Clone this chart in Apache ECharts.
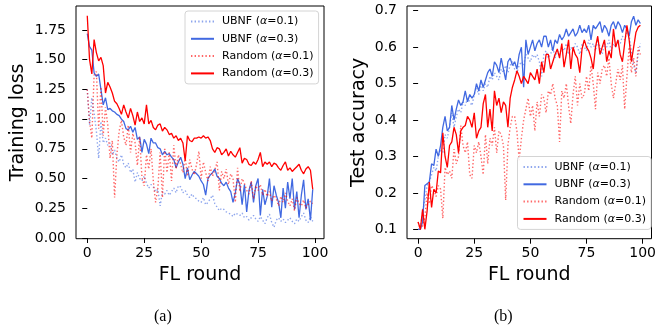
<!DOCTYPE html>
<html>
<head>
<meta charset="utf-8">
<script src="https://cdn.jsdelivr.net/npm/echarts@6/dist/echarts.min.js"></script>
<style>
  html, body { margin: 0; padding: 0; background: #fff; }
  #chart { width: 659px; height: 333px; }
</style>
</head>
<body>
<div id="chart"></div>
<script>
const seriesNames = ['UBNF (α=0.1)', 'UBNF (α=0.3)', 'Random (α=0.1)', 'Random (α=0.3)'];
const xTicks = [0, 25, 50, 75, 100];
const lossTicks = [0, 0.25, 0.5, 0.75, 1, 1.25, 1.5, 1.75];
const accTicks = [0.1, 0.2, 0.3, 0.4, 0.5, 0.6, 0.7];

// training loss per FL round (0..99)
const lossUb1 = [1.25, 0.95, 1.18, 1.05, 0.90, 0.67, 0.98, 0.80, 0.84, 0.78,
  0.80, 0.70, 0.74, 0.67, 0.64, 0.70, 0.62, 0.59, 0.63, 0.55,
  0.58, 0.47, 0.55, 0.50, 0.48, 0.52, 0.46, 0.42, 0.45, 0.43,
  0.39, 0.41, 0.27, 0.39, 0.37, 0.40, 0.36, 0.39, 0.42, 0.38,
  0.44, 0.43, 0.38, 0.40, 0.36, 0.34, 0.37, 0.34, 0.33, 0.31,
  0.30, 0.34, 0.28, 0.30, 0.33, 0.36, 0.29, 0.26, 0.23, 0.25,
  0.24, 0.22, 0.21, 0.20, 0.18, 0.21, 0.20, 0.19, 0.21, 0.17,
  0.18, 0.15, 0.17, 0.19, 0.16, 0.14, 0.18, 0.15, 0.12, 0.17,
  0.20, 0.13, 0.09, 0.15, 0.17, 0.14, 0.16, 0.13, 0.15, 0.17,
  0.14, 0.12, 0.16, 0.14, 0.18, 0.21, 0.15, 0.13, 0.18, 0.14];
const lossUb3 = [1.72, 1.61, 1.58, 1.39, 1.36, 1.38, 1.25, 1.12, 1.18, 1.08,
  1.09, 1.07, 1.06, 1.04, 1.03, 1.00, 0.98, 0.92, 0.91, 0.94,
  0.89, 0.93, 0.83, 0.85, 0.72, 0.83, 0.79, 0.71, 0.84, 0.80,
  0.80, 0.76, 0.75, 0.70, 0.73, 0.70, 0.71, 0.68, 0.66, 0.59,
  0.64, 0.68, 0.62, 0.50, 0.59, 0.49, 0.53, 0.56, 0.54, 0.52,
  0.48, 0.45, 0.36, 0.50, 0.53, 0.55, 0.58, 0.52, 0.50, 0.46,
  0.44, 0.47, 0.42, 0.39, 0.30, 0.38, 0.50, 0.45, 0.28, 0.45,
  0.22, 0.40, 0.47, 0.30, 0.44, 0.50, 0.19, 0.41, 0.28, 0.35,
  0.50, 0.26, 0.44, 0.36, 0.30, 0.17, 0.42, 0.25, 0.47, 0.33,
  0.50, 0.24, 0.39, 0.17, 0.36, 0.49, 0.24, 0.33, 0.15, 0.41];
const lossRnd1 = [1.25, 0.98, 0.84, 1.37, 1.40, 0.92, 1.27, 0.86, 1.10, 0.95,
  0.67, 0.82, 0.34, 0.70, 0.90, 0.99, 0.85, 0.78, 0.95, 0.72,
  0.88, 0.80, 0.61, 0.85, 0.51, 0.44, 0.70, 0.58, 0.75, 0.48,
  0.30, 0.42, 0.72, 0.34, 0.76, 0.55, 0.72, 0.48, 0.78, 0.58,
  0.70, 0.62, 0.55, 0.68, 0.52, 0.66, 0.58, 0.53, 0.62, 0.73,
  0.50, 0.64, 0.55, 0.48, 0.60, 0.52, 0.57, 0.64, 0.40, 0.56,
  0.50, 0.58, 0.45, 0.54, 0.50, 0.30, 0.59, 0.39, 0.50, 0.46,
  0.40, 0.37, 0.48, 0.33, 0.44, 0.40, 0.45, 0.36, 0.41, 0.35,
  0.39, 0.31, 0.36, 0.33, 0.27, 0.35, 0.30, 0.38, 0.31, 0.27,
  0.33, 0.23, 0.34, 0.29, 0.27, 0.32, 0.25, 0.28, 0.31, 0.29];
const lossRnd3 = [1.87, 1.50, 1.38, 1.67, 1.56, 1.49, 1.52, 1.45, 1.22, 1.31,
  1.27, 1.22, 1.15, 1.13, 1.09, 1.04, 1.12, 1.06, 1.01, 1.09,
  1.03, 0.95, 1.06, 0.98, 1.01, 0.96, 1.12, 0.96, 0.99, 0.93,
  0.91, 0.95, 0.96, 0.90, 0.93, 0.91, 0.87, 0.88, 0.84, 0.86,
  0.82, 0.84, 0.80, 0.65, 0.86, 0.82, 0.81, 0.84, 0.84, 0.85,
  0.84, 0.86, 0.84, 0.85, 0.82, 0.75, 0.72, 0.76, 0.75, 0.70,
  0.72, 0.75, 0.69, 0.73, 0.70, 0.68, 0.72, 0.76, 0.63, 0.67,
  0.66, 0.62, 0.61, 0.64, 0.62, 0.66, 0.72, 0.60, 0.64, 0.62,
  0.64, 0.60, 0.63, 0.62, 0.59, 0.57, 0.61, 0.64, 0.57, 0.59,
  0.56, 0.58, 0.60, 0.62, 0.57, 0.54, 0.58, 0.60, 0.57, 0.41];

// test accuracy per FL round (0..99)
const accUb1 = [0.10, 0.10, 0.15, 0.18, 0.22, 0.23, 0.25, 0.27, 0.26, 0.30,
  0.32, 0.31, 0.36, 0.35, 0.38, 0.42, 0.38, 0.41, 0.43, 0.42,
  0.45, 0.44, 0.46, 0.45, 0.44, 0.47, 0.49, 0.47, 0.50, 0.48,
  0.50, 0.49, 0.52, 0.51, 0.53, 0.52, 0.51, 0.54, 0.53, 0.55,
  0.53, 0.55, 0.56, 0.54, 0.53, 0.55, 0.56, 0.55, 0.58, 0.57,
  0.56, 0.58, 0.57, 0.58, 0.56, 0.52, 0.58, 0.59, 0.57, 0.58,
  0.60, 0.57, 0.59, 0.58, 0.60, 0.59, 0.61, 0.58, 0.60, 0.59,
  0.61, 0.60, 0.58, 0.61, 0.60, 0.59, 0.62, 0.60, 0.61, 0.59,
  0.62, 0.60, 0.58, 0.61, 0.60, 0.62, 0.59, 0.61, 0.60, 0.62,
  0.61, 0.63, 0.62, 0.64, 0.63, 0.59, 0.55, 0.53, 0.58, 0.61];
const accUb3 = [0.10, 0.10, 0.12, 0.22, 0.225, 0.23, 0.28, 0.275, 0.32, 0.30,
  0.33, 0.38, 0.41, 0.37, 0.38, 0.44, 0.40, 0.43, 0.455, 0.44,
  0.45, 0.48, 0.45, 0.47, 0.46, 0.47, 0.50, 0.48, 0.51, 0.49,
  0.51, 0.53, 0.54, 0.52, 0.56, 0.55, 0.53, 0.57, 0.54, 0.51,
  0.56, 0.57, 0.55, 0.56, 0.54, 0.58, 0.60, 0.49, 0.62, 0.58,
  0.60, 0.62, 0.59, 0.61, 0.62, 0.60, 0.63, 0.63, 0.60, 0.62,
  0.59, 0.62, 0.61, 0.635, 0.62, 0.63, 0.65, 0.63, 0.64, 0.65,
  0.63, 0.64, 0.66, 0.64, 0.65, 0.64, 0.66, 0.62, 0.66, 0.65,
  0.66, 0.67, 0.64, 0.66, 0.65, 0.63, 0.66, 0.67, 0.65, 0.67,
  0.66, 0.64, 0.66, 0.65, 0.63, 0.67, 0.685, 0.66, 0.675, 0.665];
const accRnd1 = [0.12, 0.10, 0.11, 0.13, 0.20, 0.17, 0.22, 0.21, 0.19, 0.22,
  0.21, 0.13, 0.27, 0.25, 0.26, 0.24, 0.32, 0.28, 0.30, 0.385,
  0.33, 0.31, 0.34, 0.25, 0.24, 0.33, 0.31, 0.34, 0.30, 0.25,
  0.36, 0.28, 0.35, 0.33, 0.38, 0.31, 0.37, 0.36, 0.33, 0.18,
  0.33, 0.38, 0.41, 0.41, 0.37, 0.29, 0.35, 0.40, 0.43, 0.46,
  0.41, 0.44, 0.37, 0.45, 0.41, 0.47, 0.46, 0.42, 0.48, 0.47,
  0.50, 0.46, 0.44, 0.34, 0.48, 0.46, 0.50, 0.44, 0.39, 0.47,
  0.52, 0.44, 0.50, 0.46, 0.47, 0.52, 0.48, 0.55, 0.50, 0.43,
  0.53, 0.50, 0.54, 0.55, 0.52, 0.57, 0.50, 0.46, 0.50, 0.54,
  0.51, 0.55, 0.43, 0.52, 0.60, 0.53, 0.57, 0.52, 0.60, 0.58];
const accRnd3 = [0.12, 0.10, 0.155, 0.10, 0.15, 0.23, 0.16, 0.21, 0.20, 0.26,
  0.255, 0.365, 0.30, 0.27, 0.33, 0.34, 0.38, 0.36, 0.31, 0.37,
  0.38, 0.385, 0.41, 0.40, 0.38, 0.42, 0.35, 0.37, 0.38, 0.445,
  0.47, 0.38, 0.43, 0.37, 0.48, 0.44, 0.46, 0.42, 0.45, 0.44,
  0.38, 0.46, 0.49, 0.51, 0.535, 0.52, 0.50, 0.52, 0.51, 0.50,
  0.53, 0.52, 0.51, 0.54, 0.50, 0.56, 0.53, 0.58, 0.58, 0.54,
  0.56, 0.58, 0.595, 0.57, 0.61, 0.545, 0.58, 0.62, 0.54, 0.60,
  0.58, 0.57, 0.53, 0.595, 0.62, 0.60, 0.59, 0.57, 0.54, 0.60,
  0.63, 0.58, 0.60, 0.62, 0.56, 0.59, 0.57, 0.65, 0.60, 0.62,
  0.58, 0.56, 0.61, 0.66, 0.62, 0.56, 0.60, 0.64, 0.655, 0.66];

const BLUE = '#4169e1';
const RED = '#ff0000';
const FONT = 'DejaVu Sans';

function line(name, values, axis, color, dotted) {
  return {
    name: name,
    type: 'line',
    xAxisIndex: axis,
    yAxisIndex: axis,
    data: values.map((v, i) => [i, v]),
    showSymbol: false,
    symbol: 'none',
    animation: false,
    lineStyle: {
      color: color,
      width: dotted ? 1.4 : 1.3,
      type: dotted ? [1.4, 2.2] : 'solid',
      opacity: dotted ? 0.6 : 1
    },
    itemStyle: { color: color }
  };
}

function xAxis(idx) {
  return {
    type: 'value',
    gridIndex: idx,
    min: -4.95,
    max: 103.95,
    name: 'FL round',
    nameLocation: 'middle',
    nameGap: 21,
    nameTextStyle: { fontFamily: FONT, fontSize: 19, color: '#000' },
    axisLine: { show: false },
    axisTick: { show: true, length: 5, customValues: xTicks, lineStyle: { color: '#000', width: 1 } },
    axisLabel: { customValues: xTicks, margin: 8, fontFamily: FONT, fontSize: 14, color: '#000' },
    splitLine: { show: false }
  };
}

function yAxis(idx, min, max, ticks, digits, title, gap) {
  return {
    type: 'value',
    gridIndex: idx,
    min: min,
    max: max,
    name: title,
    nameLocation: 'middle',
    nameGap: gap,
    nameTextStyle: { fontFamily: FONT, fontSize: 19, color: '#000' },
    axisLine: { show: false },
    axisTick: { show: true, length: 5, customValues: ticks, lineStyle: { color: '#000', width: 1 } },
    axisLabel: {
      customValues: ticks, margin: 10, fontFamily: FONT, fontSize: 14, color: '#000',
      formatter: v => v.toFixed(digits)
    },
    splitLine: { show: false }
  };
}

function legend(left, top) {
  return {
    data: seriesNames,
    orient: 'vertical',
    left: left,
    top: top,
    itemWidth: 23,
    itemHeight: 12,
    itemGap: 6.3,
    padding: [5, 5, 5, 5],
    backgroundColor: 'rgba(255,255,255,0.85)',
    borderColor: '#d4d4d4',
    borderWidth: 1,
    borderRadius: 3,
    selectedMode: false,
    itemStyle: { opacity: 0 },
    formatter: name => '{n|' + name.replace('α', '}{i|α}{n|') + '}',
    textStyle: {
      fontFamily: FONT, fontSize: 11, color: '#000', padding: [0, 0, 0, 3],
      rich: {
        n: { fontFamily: FONT, fontSize: 11, color: '#000' },
        i: { fontFamily: FONT, fontSize: 11, fontStyle: 'italic', color: '#000' }
      }
    }
  };
}

const chart = echarts.init(document.getElementById('chart'), null, { renderer: 'canvas' });
chart.setOption({
  animation: false,
  backgroundColor: '#fff',
  grid: [
    { left: 76, top: 6, width: 248, height: 232.7, show: true, borderColor: '#000', borderWidth: 1, backgroundColor: 'transparent' },
    { left: 407, top: 6, width: 250, height: 232.7, show: true, borderColor: '#000', borderWidth: 1, backgroundColor: 'transparent' }
  ],
  xAxis: [xAxis(0), xAxis(1)],
  yAxis: [
    yAxis(0, -0.006, 1.952, lossTicks, 2, 'Training loss', 48),
    yAxis(1, 0.0742, 0.713, accTicks, 1, 'Test accuracy', 38)
  ],
  legend: [legend(185, 11), legend(517.5, 156.5)],
  series: [
    line(seriesNames[0], lossUb1, 0, BLUE, true),
    line(seriesNames[1], lossUb3, 0, BLUE, false),
    line(seriesNames[2], lossRnd1, 0, RED, true),
    line(seriesNames[3], lossRnd3, 0, RED, false),
    line(seriesNames[0], accUb1, 1, BLUE, true),
    line(seriesNames[1], accUb3, 1, BLUE, false),
    line(seriesNames[2], accRnd1, 1, RED, true),
    line(seriesNames[3], accRnd3, 1, RED, false)
  ],
  graphic: [
    { type: 'text', left: 154, top: 309, style: { text: '(a)', font: '16px "Liberation Serif"', fill: '#000' } },
    { type: 'text', left: 494, top: 309, style: { text: '(b)', font: '16px "Liberation Serif"', fill: '#000' } }
  ]
});
</script>
</body>
</html>
